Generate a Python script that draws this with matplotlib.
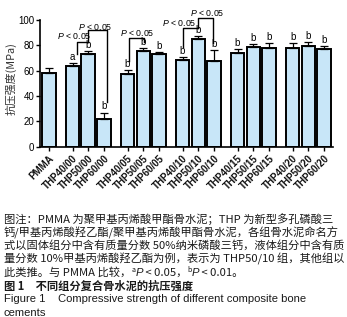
import matplotlib
matplotlib.use('Agg')
import matplotlib.pyplot as plt
import numpy as np

plt.rcParams['font.family'] = ['Liberation Sans', 'DejaVu Sans']
plt.rcParams['mathtext.fontset'] = 'custom'
plt.rcParams['mathtext.it'] = 'Liberation Sans:italic'
plt.rcParams['mathtext.rm'] = 'Liberation Sans'

# compressive strength (MPa), mean and upper SD
groups = ['PMMA',
          'THP40/00', 'THP50/00', 'THP60/00',
          'THP40/05', 'THP50/05', 'THP60/05',
          'THP40/10', 'THP50/10', 'THP60/10',
          'THP40/15', 'THP50/15', 'THP60/15',
          'THP40/20', 'THP50/20', 'THP60/20']
strength = [58, 63.7, 73.2, 21.5,
            57.1, 75.8, 73.2,
            68.4, 84.8, 67.9,
            73.7, 78.4, 78.1,
            78.1, 79.7, 76.9]
sd = [4, 2, 2.4, 5.5,
      3.4, 2.3, 1.3,
      2.6, 2.6, 8.4,
      3.4, 2.6, 4,
      3.5, 3.2, 2.6]
letters = ['', 'a', 'b', 'b',
           'b', 'b', 'b',
           'b', 'b', 'b',
           'b', 'b', 'b',
           'b', 'b', 'b']

caption_lines = [
    '图注：PMMA 为聚甲基丙烯酸甲酯骨水泥；THP 为新型多孔磷酸三',
    '钙/甲基丙烯酸羟乙酯/聚甲基丙烯酸甲酯骨水泥，各组骨水泥命名方',
    '式以固体组分中含有质量分数 50%纳米磷酸三钙，液体组分中含有质',
    '量分数 10%甲基丙烯酸羟乙酯为例，表示为 THP50/10 组，其他组以',
]

# PMMA alone, then 5 groups of 3 bars with a half-slot gap between groups
xpos = [0.0] + [1.5 + 3.5 * g + k for g in range(5) for k in range(3)]

fig = plt.figure(figsize=(3.47, 3.17), dpi=100)
ax = fig.add_axes([40 / 347, 170.3 / 317, 293 / 347, 136.8 / 317])

ax.bar(xpos, strength, width=0.86, color='#C8E6F8', edgecolor='black',
       linewidth=1.4, zorder=2)
ax.errorbar(xpos, strength, yerr=[np.zeros(len(sd)), sd], fmt='none',
            ecolor='black', elinewidth=0.9, capsize=2.6, capthick=0.9, zorder=3)

for x, v, e, lab in zip(xpos, strength, sd, letters):
    if lab:
        ax.text(x, v + e + 0.8, lab, ha='center', va='bottom', fontsize=7)

ax.set_xlim(-0.57, 18.07)
ax.set_ylim(0, 108)
ax.set_yticks([0, 20, 40, 60, 80, 100])
ax.spines[['top', 'right']].set_visible(False)
ax.spines['left'].set_bounds(0, 100)
ax.spines['left'].set_linewidth(1.2)
ax.spines['bottom'].set_linewidth(1.2)
ax.tick_params(axis='y', labelsize=7, length=3, width=1, pad=1)
ax.tick_params(axis='x', length=3, width=1, pad=2)
ax.set_xticks(xpos)
ax.set_xticklabels(groups, rotation=45, ha='right', rotation_mode='anchor',
                   fontsize=7, fontweight='bold', color='#111111')
ax.set_ylabel('抗压强度(MPa)', fontsize=7.8, family=['Noto Sans CJK SC', 'DejaVu Sans'],
              color='#333333', labelpad=1)

# significance brackets (x in data units, y in MPa)
def bracket(x1, x2, y, y1, y2, lw=1.0):
    ax.plot([x1, x1, x2, x2], [y1, y, y, y2], color='black', lw=lw,
            clip_on=False, zorder=4)

ptxt = '$P$ < 0.05'
bracket(1.76, 2.5, 82.5, 73, 82.5)
ax.text(1.62, 87.5, ptxt, ha='center', va='center', fontsize=6.3)
bracket(2.5, 3.68, 92, 82.5, 35)
ax.text(2.96, 94.7, ptxt, ha='center', va='center', fontsize=6.3)
bracket(5.1, 6.05, 85.8, 67.6, 82.6)
ax.text(5.6, 89.8, ptxt, ha='center', va='center', fontsize=6.3)
bracket(8.54, 9.49, 93.7, 78.8, 93.7)
ax.text(8.31, 97.6, ptxt, ha='center', va='center', fontsize=6.3)
bracket(9.49, 10.45, 101.6, 93.7, 81.8)
ax.text(10.06, 105.5, ptxt, ha='center', va='center', fontsize=6.3)

# caption
cjk = ['Noto Sans CJK SC', 'DejaVu Sans']
W, H = 347.0, 317.0
left = 4 / W
line_y = [219 + 13.4 * i for i in range(8)]
for s, y in zip(caption_lines, line_y):
    fig.text(left, 1 - y / H, s, fontsize=8.1, family=cjk, va='center',
             color='#1a1a1a')

# line with superscripts and italic P, placed piece by piece
pieces = [('此类推。与 PMMA 比较，', {}),
          ('a', {'fontsize': 5.2, 'dy': 3}),
          ('P', {'style': 'italic'}),
          (' < 0.05，', {}),
          ('b', {'fontsize': 5.2, 'dy': 3}),
          ('P', {'style': 'italic'}),
          (' < 0.01。', {})]
renderer = fig.canvas.get_renderer()
xcur = 4.0
for s, opt in pieces:
    fam = cjk if not opt.get('style') else ['Liberation Sans']
    t = fig.text(xcur / W, 1 - (line_y[4] - opt.get('dy', 0)) / H, s,
                 fontsize=opt.get('fontsize', 8.1), family=fam,
                 style=opt.get('style', 'normal'), va='center', color='#1a1a1a')
    xcur += t.get_window_extent(renderer).width

fig.text(left, 1 - line_y[5] / H, '图 1　不同组分复合骨水泥的抗压强度', fontsize=8.1,
         family=cjk, fontweight='bold', va='center', color='#1a1a1a')
fig.text(left, 1 - line_y[6] / H,
         'Figure 1    Compressive strength of different composite bone',
         fontsize=8.1, va='center', color='#1a1a1a')
fig.text(left, 1 - line_y[7] / H, 'cements', fontsize=8.1, va='center',
         color='#1a1a1a')

fig.savefig('out.png', dpi=100)
plt.close(fig)
